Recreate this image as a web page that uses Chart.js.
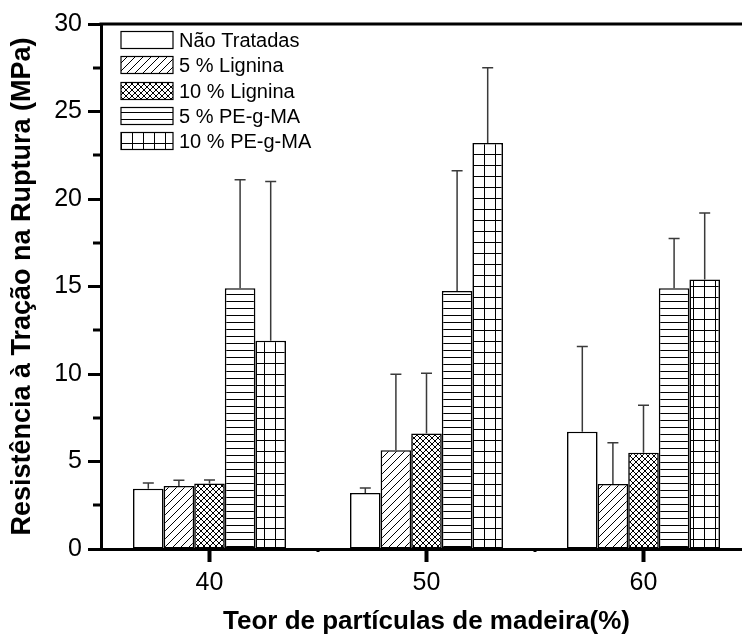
<!DOCTYPE html>
<html>
<head>
<meta charset="utf-8">
<script src="https://cdn.jsdelivr.net/npm/chart.js@4.4.1/dist/chart.umd.min.js"></script>
<style>
  html, body { margin: 0; padding: 0; background: #fff; overflow: hidden; }
  #wrap { width: 752px; height: 637px; }
</style>
</head>
<body>
<div id="wrap"><canvas id="chart" width="752" height="637"></canvas></div>
<script>
// ── DATA ──
const categories  = ['40', '50', '60'];
const seriesNames = ['Não Tratadas', '5 % Lignina', '10 % Lignina', '5 % PE-g-MA', '10 % PE-g-MA'];

const naoTratadas = [3.45, 3.2, 6.7];
const lignina5    = [3.6, 5.65, 3.72];
const lignina10   = [3.75, 6.6, 5.5];
const pegma5      = [14.9, 14.75, 14.9];
const pegma10     = [11.9, 23.2, 15.4];

// upper error (MPa)
const errNao      = [0.32, 0.29, 4.87];
const errLig5     = [0.33, 4.33, 2.35];
const errLig10    = [0.2, 3.44, 2.72];
const errPe5      = [6.2, 6.87, 2.85];
const errPe10     = [9.1, 4.3, 3.8];

const yTicks      = [0, 5, 10, 15, 20, 25, 30];
const yMinorTicks = [2.5, 7.5, 12.5, 17.5, 22.5, 27.5];

const FONT = "'Liberation Sans', Arial, sans-serif";

// ── HATCH PATTERNS ──
const canvas = document.getElementById('chart');
const ctx = canvas.getContext('2d');

function makePattern(w, h, draw) {
  const c = document.createElement('canvas');
  c.width = w; c.height = h;
  const g = c.getContext('2d');
  g.fillStyle = '#fff';
  g.fillRect(0, 0, w, h);
  g.strokeStyle = '#000';
  g.lineWidth = 1;
  draw(g, w, h);
  return ctx.createPattern(c, 'repeat');
}

const plain = '#ffffff';
const diag = makePattern(8, 8, (g, w, h) => {
  g.beginPath();
  g.moveTo(-1, h + 1); g.lineTo(w + 1, -1);
  g.moveTo(-1, 1); g.lineTo(1, -1);
  g.moveTo(w - 1, h + 1); g.lineTo(w + 1, h - 1);
  g.stroke();
});
const cross = makePattern(6, 6, (g, w, h) => {
  g.beginPath();
  g.moveTo(-1, h + 1); g.lineTo(w + 1, -1);
  g.moveTo(-1, -1); g.lineTo(w + 1, h + 1);
  g.stroke();
});
const horiz = makePattern(4, 7, (g, w) => {
  g.beginPath();
  g.moveTo(0, 0.5); g.lineTo(w, 0.5);
  g.stroke();
});
const grid = makePattern(11, 11, (g, w, h) => {
  g.beginPath();
  g.moveTo(0, 0.5); g.lineTo(w, 0.5);
  g.moveTo(0.5, 0); g.lineTo(0.5, h);
  g.stroke();
});

const fills  = [plain, diag, cross, horiz, grid];
const values = [naoTratadas, lignina5, lignina10, pegma5, pegma10];
const errors = [errNao, errLig5, errLig10, errPe5, errPe10];

// ── PLUGINS ──
const errorBars = {
  id: 'errorBars',
  afterDatasetsDraw(chart) {
    const c = chart.ctx, y = chart.scales.y;
    c.save();
    c.strokeStyle = '#3a3a3a';
    c.lineWidth = 1.5;
    chart.data.datasets.forEach((ds, i) => {
      chart.getDatasetMeta(i).data.forEach((bar, j) => {
        const top = y.getPixelForValue(ds.data[j]);
        const end = y.getPixelForValue(ds.data[j] + errors[i][j]);
        c.beginPath();
        c.moveTo(bar.x, top); c.lineTo(bar.x, end);
        c.moveTo(bar.x - 5.5, end); c.lineTo(bar.x + 5.5, end);
        c.stroke();
      });
    });
    c.restore();
  }
};

const frame = {
  id: 'frame',
  afterDraw(chart) {
    const c = chart.ctx, a = chart.chartArea, y = chart.scales.y, x = chart.scales.x;
    c.save();
    c.strokeStyle = '#000';
    // top edge
    c.lineWidth = 3;
    c.beginPath(); c.moveTo(a.left - 1.5, a.top); c.lineTo(a.right + 2, a.top); c.stroke();
    // minor ticks, y
    c.lineWidth = 3;
    yMinorTicks.forEach(v => {
      const py = Math.round(y.getPixelForValue(v));
      c.beginPath(); c.moveTo(a.left - 8, py); c.lineTo(a.left, py); c.stroke();
    });
    // minor ticks, x (between groups)
    for (let k = 0; k < categories.length - 1; k++) {
      const px = (x.getPixelForValue(k) + x.getPixelForValue(k + 1)) / 2;
      c.beginPath(); c.moveTo(px, a.bottom); c.lineTo(px, a.bottom + 3); c.stroke();
    }
    c.restore();
  }
};

const hatchLegend = {
  id: 'hatchLegend',
  afterDraw(chart) {
    const c = chart.ctx;
    const x0 = 121, y0 = 31, bw = 52, bh = 17, gap = 25.3;
    c.save();
    c.font = '20px ' + FONT;
    c.textBaseline = 'middle';
    chart.data.datasets.forEach((ds, i) => {
      const top = Math.round(y0 + i * gap) + 0.5;
      c.fillStyle = ds.backgroundColor;
      c.fillRect(x0, top, bw, bh);
      c.strokeStyle = '#000';
      c.lineWidth = 1.2;
      c.strokeRect(x0, top, bw, bh);
      c.fillStyle = '#000';
      c.fillText(ds.label, x0 + bw + 6, top + bh / 2 + 1);
    });
    c.restore();
  }
};

// ── CHART ──
new Chart(ctx, {
  type: 'bar',
  data: {
    labels: categories,
    datasets: seriesNames.map((name, i) => ({
      label: name,
      data: values[i],
      backgroundColor: fills[i],
      borderColor: '#000',
      borderWidth: 1.6,
      borderSkipped: false,
      categoryPercentage: 0.705,
      barPercentage: 1.0
    }))
  },
  options: {
    responsive: false,
    devicePixelRatio: 1,
    animation: false,
    layout: { padding: { top: 24, right: 0, left: 0, bottom: 0 } },
    plugins: { legend: { display: false }, tooltip: { enabled: false } },
    scales: {
      x: {
        grid: { offset: false, drawOnChartArea: false, color: '#000', tickLength: 13, tickWidth: 4 },
        border: { color: '#000', width: 3 },
        ticks: { color: '#000', padding: 6, font: { family: FONT, size: 25 } },
        title: {
          display: true,
          text: 'Teor de partículas de madeira(%)',
          color: '#000',
          font: { family: FONT, size: 26, weight: 'bold' },
          padding: { top: 0, bottom: 0 }
        },
        afterFit(scale) { scale.height = 88; }
      },
      y: {
        min: 0, max: 30,
        afterBuildTicks(scale) { scale.ticks = yTicks.map(v => ({ value: v })); },
        grid: { drawOnChartArea: false, color: '#000', tickLength: 13, tickWidth: 3 },
        border: { color: '#000', width: 3 },
        ticks: { color: '#000', padding: 6, font: { family: FONT, size: 25 } },
        title: {
          display: true,
          text: 'Resistência à Tração na Ruptura (MPa)',
          color: '#000',
          font: { family: FONT, size: 27, weight: 'bold' },
          padding: { top: 6, bottom: 0 }
        },
        afterFit(scale) { scale.width = 101; }
      }
    }
  },
  plugins: [errorBars, frame, hatchLegend]
});
</script>
</body>
</html>
